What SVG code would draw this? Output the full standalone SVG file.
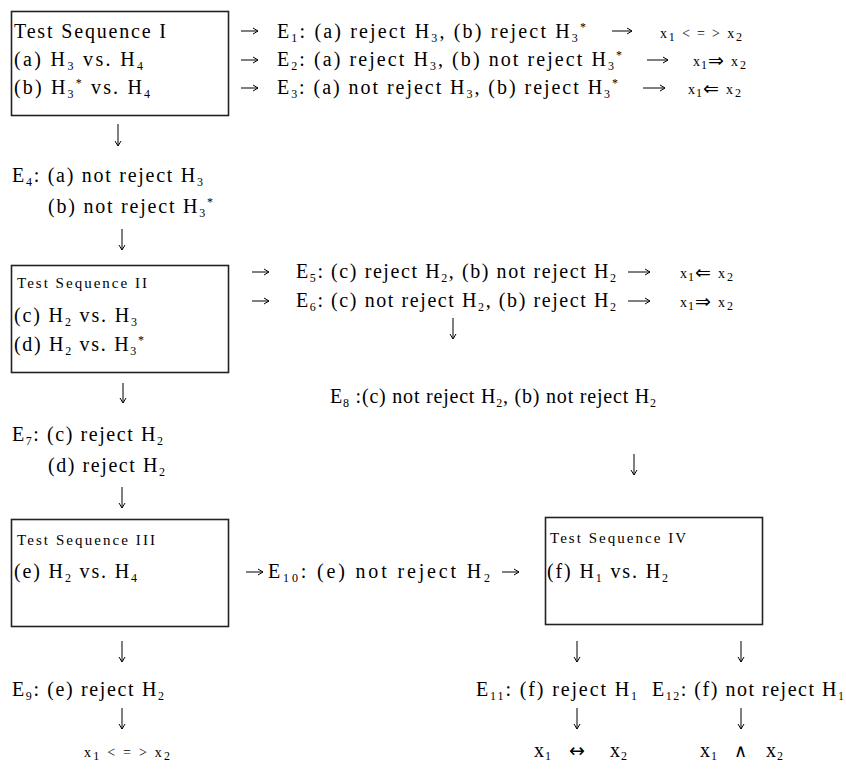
<svg xmlns="http://www.w3.org/2000/svg" width="846" height="769" viewBox="0 0 846 769">
<style>
text{font-family:"Liberation Serif","DejaVu Serif",serif;fill:#000}
.t{font-size:20px}
.sm{font-size:15px}
.xe{font-size:14px}
.b{font-size:12px}
.ar{font-family:"DejaVu Sans",sans-serif;font-size:19px}
.box{fill:#fff;stroke:#222;stroke-width:1.6}
.c{stroke:#000;stroke-width:1;fill:none}
</style>
<defs>
<marker id="ah" markerUnits="userSpaceOnUse" markerWidth="8" markerHeight="8" refX="6" refY="4" orient="auto"><path d="M1,1 L6,4 L1,7" fill="none" stroke="#000" stroke-width="1"/></marker>
</defs>

<g id="connectors">
<path class="c" marker-end="url(#ah)" d="M241,31 H258"/>
<path class="c" marker-end="url(#ah)" d="M241,60 H258"/>
<path class="c" marker-end="url(#ah)" d="M241,88 H258"/>
<path class="c" marker-end="url(#ah)" d="M612,31 H632"/>
<path class="c" marker-end="url(#ah)" d="M647,60 H668"/>
<path class="c" marker-end="url(#ah)" d="M643,88 H665"/>
<path class="c" marker-end="url(#ah)" d="M252,272 H269"/>
<path class="c" marker-end="url(#ah)" d="M252,301 H269"/>
<path class="c" marker-end="url(#ah)" d="M628,272 H650"/>
<path class="c" marker-end="url(#ah)" d="M628,301 H650"/>
<path class="c" marker-end="url(#ah)" d="M246,572 H263"/>
<path class="c" marker-end="url(#ah)" d="M502,572 H519"/>
<path class="c" marker-end="url(#ah)" d="M118,124 V146"/>
<path class="c" marker-end="url(#ah)" d="M122,229 V250"/>
<path class="c" marker-end="url(#ah)" d="M123,383 V403"/>
<path class="c" marker-end="url(#ah)" d="M122,487 V508"/>
<path class="c" marker-end="url(#ah)" d="M122,641 V662"/>
<path class="c" marker-end="url(#ah)" d="M122,708 V729"/>
<path class="c" marker-end="url(#ah)" d="M453,318 V339"/>
<path class="c" marker-end="url(#ah)" d="M634,454 V475"/>
<path class="c" marker-end="url(#ah)" d="M577,641 V662"/>
<path class="c" marker-end="url(#ah)" d="M741,641 V662"/>
<path class="c" marker-end="url(#ah)" d="M577,708 V729"/>
<path class="c" marker-end="url(#ah)" d="M741,708 V729"/>
</g>

<g id="ts1">
<rect class="box" x="11.5" y="11.5" width="217" height="104"/>
<text class="t" x="14" y="38" textLength="152">Test Sequence I</text>
<text class="t" x="14" y="66" textLength="129">(a) H<tspan class="b" dy="4">3</tspan><tspan dy="-4"> vs. H</tspan><tspan class="b" dy="4">4</tspan></text>
<text class="t" x="14" y="94" textLength="136">(b) H<tspan class="b" dy="4">3</tspan><tspan class="b" dy="-11">*</tspan><tspan dy="7"> vs. H</tspan><tspan class="b" dy="4">4</tspan></text>
</g>

<g id="e1">
<text class="t" x="277" y="38" textLength="309">E<tspan class="b" dy="4">1</tspan><tspan dy="-4">: (a) reject H</tspan><tspan class="b" dy="4">3</tspan><tspan dy="-4">, (b) reject H</tspan><tspan class="b" dy="4">3</tspan><tspan class="b" dy="-11">*</tspan></text>
<text class="xe" x="660" y="38" textLength="82">x<tspan class="b" dy="3">1</tspan><tspan dy="-3"> &lt; = &gt; x</tspan><tspan class="b" dy="3">2</tspan></text>
</g>
<g id="e2">
<text class="t" x="277" y="66" textLength="345">E<tspan class="b" dy="4">2</tspan><tspan dy="-4">: (a) reject H</tspan><tspan class="b" dy="4">3</tspan><tspan dy="-4">, (b) not reject H</tspan><tspan class="b" dy="4">3</tspan><tspan class="b" dy="-11">*</tspan></text>
<text class="xe" y="66"><tspan x="693">x</tspan><tspan class="b" x="701" dy="3">1</tspan><tspan class="ar" x="708" dy="-2">⇒</tspan><tspan x="731" dy="-1">x</tspan><tspan class="b" x="740" dy="3">2</tspan></text>
</g>
<g id="e3">
<text class="t" x="277" y="94" textLength="341">E<tspan class="b" dy="4">3</tspan><tspan dy="-4">: (a) not reject H</tspan><tspan class="b" dy="4">3</tspan><tspan dy="-4">, (b) reject H</tspan><tspan class="b" dy="4">3</tspan><tspan class="b" dy="-11">*</tspan></text>
<text class="xe" y="94"><tspan x="688">x</tspan><tspan class="b" x="696" dy="3">1</tspan><tspan class="ar" x="703" dy="-2">⇐</tspan><tspan x="726" dy="-1">x</tspan><tspan class="b" x="735" dy="3">2</tspan></text>
</g>

<g id="e4">
<text class="t" x="12" y="182" textLength="191">E<tspan class="b" dy="4">4</tspan><tspan dy="-4">: (a) not reject H</tspan><tspan class="b" dy="4">3</tspan></text>
<text class="t" x="48" y="213" textLength="165">(b) not reject H<tspan class="b" dy="4">3</tspan><tspan class="b" dy="-11">*</tspan></text>
</g>

<g id="ts2">
<rect class="box" x="11.5" y="265.5" width="217" height="107"/>
<text class="sm" x="17" y="288" textLength="130">Test Sequence II</text>
<text class="t" x="14" y="322" textLength="123">(c) H<tspan class="b" dy="4">2</tspan><tspan dy="-4"> vs. H</tspan><tspan class="b" dy="4">3</tspan></text>
<text class="t" x="14" y="351" textLength="130">(d) H<tspan class="b" dy="4">2</tspan><tspan dy="-4"> vs. H</tspan><tspan class="b" dy="4">3</tspan><tspan class="b" dy="-11">*</tspan></text>
</g>

<g id="e5">
<text class="t" x="296" y="278" textLength="320">E<tspan class="b" dy="4">5</tspan><tspan dy="-4">: (c) reject H</tspan><tspan class="b" dy="4">2</tspan><tspan dy="-4">, (b) not reject H</tspan><tspan class="b" dy="4">2</tspan></text>
<text class="xe" y="278"><tspan x="680">x</tspan><tspan class="b" x="688" dy="3">1</tspan><tspan class="ar" x="695" dy="-2">⇐</tspan><tspan x="718" dy="-1">x</tspan><tspan class="b" x="727" dy="3">2</tspan></text>
</g>
<g id="e6">
<text class="t" x="296" y="307" textLength="320">E<tspan class="b" dy="4">6</tspan><tspan dy="-4">: (c) not reject H</tspan><tspan class="b" dy="4">2</tspan><tspan dy="-4">, (b) reject H</tspan><tspan class="b" dy="4">2</tspan></text>
<text class="xe" y="307"><tspan x="680">x</tspan><tspan class="b" x="688" dy="3">1</tspan><tspan class="ar" x="695" dy="-2">⇒</tspan><tspan x="718" dy="-1">x</tspan><tspan class="b" x="727" dy="3">2</tspan></text>
</g>

<g id="e8">
<text class="t" x="330" y="403" textLength="326">E<tspan class="b" dy="4">8</tspan><tspan dy="-4"> :(c) not reject H</tspan><tspan class="b" dy="4">2</tspan><tspan dy="-4">, (b) not reject H</tspan><tspan class="b" dy="4">2</tspan></text>
</g>

<g id="e7">
<text class="t" x="12" y="441" textLength="151">E<tspan class="b" dy="4">7</tspan><tspan dy="-4">: (c) reject H</tspan><tspan class="b" dy="4">2</tspan></text>
<text class="t" x="48" y="472" textLength="117">(d) reject H<tspan class="b" dy="4">2</tspan></text>
</g>

<g id="ts3">
<rect class="box" x="11.5" y="519.5" width="217" height="107"/>
<text class="sm" x="17" y="545" textLength="138">Test Sequence III</text>
<text class="t" x="14" y="578" textLength="123">(e) H<tspan class="b" dy="4">2</tspan><tspan dy="-4"> vs. H</tspan><tspan class="b" dy="4">4</tspan></text>
</g>

<g id="e10">
<text class="t" x="268" y="578" textLength="222">E<tspan class="b" dy="4">10</tspan><tspan dy="-4">: (e) not reject H</tspan><tspan class="b" dy="4">2</tspan></text>
</g>

<g id="ts4">
<rect class="box" x="545.5" y="517.5" width="217" height="107"/>
<text class="sm" x="550" y="543" textLength="136">Test Sequence IV</text>
<text class="t" x="547" y="578" textLength="121">(f) H<tspan class="b" dy="4">1</tspan><tspan dy="-4"> vs. H</tspan><tspan class="b" dy="4">2</tspan></text>
</g>

<g id="e9">
<text class="t" x="12" y="696" textLength="152">E<tspan class="b" dy="4">9</tspan><tspan dy="-4">: (e) reject H</tspan><tspan class="b" dy="4">2</tspan></text>
<text class="xe" x="84" y="757" textLength="86">x<tspan class="b" dy="3">1</tspan><tspan dy="-3"> &lt; = &gt; x</tspan><tspan class="b" dy="3">2</tspan></text>
</g>

<g id="e11">
<text class="t" x="476" y="696" textLength="161">E<tspan class="b" dy="4">11</tspan><tspan dy="-4">: (f) reject H</tspan><tspan class="b" dy="4">1</tspan></text>
<text class="t" y="757"><tspan x="534">x</tspan><tspan class="b" x="545" dy="3">1</tspan><tspan class="ar" font-size="20" x="569" dy="-3">↔</tspan><tspan x="610">x</tspan><tspan class="b" x="621" dy="3">2</tspan></text>
</g>

<g id="e12">
<text class="t" x="652" y="696" textLength="192">E<tspan class="b" dy="4">12</tspan><tspan dy="-4">: (f) not reject H</tspan><tspan class="b" dy="4">1</tspan></text>
<text class="t" y="757"><tspan x="700">x</tspan><tspan class="b" x="711" dy="3">1</tspan><tspan font-size="18" x="734" dy="-3">∧</tspan><tspan x="766">x</tspan><tspan class="b" x="777" dy="3">2</tspan></text>
</g>
</svg>
